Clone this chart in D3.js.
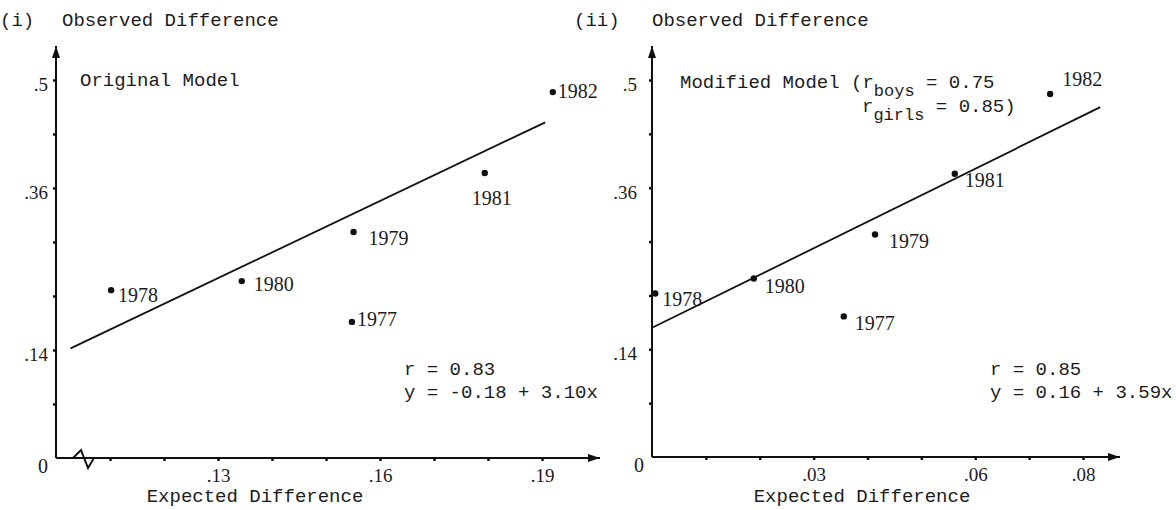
<!DOCTYPE html>
<html>
<head>
<meta charset="utf-8">
<script src="https://cdn.jsdelivr.net/npm/d3@7"></script>
<style>
  body { margin: 0; background: #fff; }
  svg { display: block; }
  .mono { font-family: "Liberation Mono", "DejaVu Sans Mono", monospace; font-size: 19px; fill: #1c1c1c; }
  .serif { font-family: "Liberation Serif", "DejaVu Serif", serif; font-size: 20px; fill: #1c1c1c; }
  .tick text { font-family: "Liberation Serif", serif; font-size: 19px; fill: #1c1c1c; }
</style>
</head>
<body>
<div id="holder"></div>
<script>
// years, same order in both panels
var years = ["1977", "1978", "1979", "1980", "1981", "1982"];

// (i) original model
var origExpected = [0.1548, 0.1102, 0.1551, 0.1344, 0.1794, 0.1920];
var origObserved = [0.180, 0.222, 0.299, 0.234, 0.377, 0.484];
var origLineX = [0.1027, 0.1906];
var origLineY = [0.145, 0.444];
var origXTicks = [0.11, 0.12, 0.13, 0.14, 0.15, 0.16, 0.17, 0.18, 0.19];
var origXLabelValues = [0.13, 0.16, 0.19];
var origXLabels = [".13", ".16", ".19"];

// (ii) modified model
var modExpected = [0.0356, 0.0006, 0.0414, 0.0189, 0.0562, 0.0739];
var modObserved = [0.1865, 0.2169, 0.2950, 0.2368, 0.3757, 0.4815];
var modLineX = [0.0002, 0.0832];
var modLineY = [0.172, 0.464];
var modXTicks = [0.01, 0.02, 0.03, 0.04, 0.05, 0.06, 0.07, 0.08];
var modXLabelValues = [0.03, 0.06, 0.08];
var modXLabels = [".03", ".06", ".08"];

// y axis: 7 steps up to .5
var yTicks = [1, 2, 3, 4, 5, 6, 7].map(function(i) { return i * 0.5 / 7; });
var yLabelSteps = [2, 5, 7];
var yLabels = [".14", ".36", ".5"];

var svg = d3.select('#holder').append('svg').attr('width', 1176).attr('height', 510);

svg.append('defs').append('marker')
  .attr('id', 'arrow')
  .attr('viewBox', '0 0 12 10')
  .attr('refX', 12).attr('refY', 5)
  .attr('markerWidth', 12).attr('markerHeight', 10)
  .attr('markerUnits', 'userSpaceOnUse')
  .attr('orient', 'auto')
  .append('path').attr('d', 'M0,1 L12,5 L0,9 Z').attr('fill', '#111');

function drawPanel(p) {
  var g = svg.append('g');
  var x = d3.scaleLinear().domain(p.xDomain).range(p.xRange);
  var y = d3.scaleLinear().domain([0, 0.5]).range([p.yBase, 80]);
  var x0 = p.xRange[0];

  // axis lines with arrows
  g.append('line').attr('x1', x0).attr('y1', p.yBase).attr('x2', p.xEnd).attr('y2', p.yBase)
    .attr('stroke', '#111').attr('stroke-width', 2).attr('marker-end', 'url(#arrow)');
  g.append('line').attr('x1', x0).attr('y1', p.yBase).attr('x2', x0).attr('y2', 46)
    .attr('stroke', '#111').attr('stroke-width', 2).attr('marker-end', 'url(#arrow)');

  var xAxis = d3.axisBottom(x).tickValues(p.xTicks).tickSize(3).tickPadding(8)
    .tickFormat(function(d) {
      var i = p.xLabelValues.findIndex(function(v) { return Math.abs(v - d) < 1e-6; });
      return i >= 0 ? p.xLabels[i] : '';
    });
  var xg = g.append('g').attr('transform', 'translate(0,' + p.yBase + ')').call(xAxis);
  xg.select('.domain').remove();
  xg.selectAll('.tick line').attr('stroke', '#111').attr('stroke-width', 2.5);

  var yAxis = d3.axisLeft(y).tickValues(yTicks).tickSize(3).tickPadding(p.yPad)
    .tickFormat(function(d, i) {
      var k = yLabelSteps.indexOf(i + 1);
      return k >= 0 ? yLabels[k] : '';
    });
  var yg = g.append('g').attr('transform', 'translate(' + x0 + ',0)').call(yAxis);
  yg.select('.domain').remove();
  yg.selectAll('.tick line').attr('stroke', '#111').attr('stroke-width', 2.5);
  yg.selectAll('.tick text').attr('dy', '0.55em');

  g.append('text').attr('class', 'serif').attr('x', x0 - 13).attr('y', p.yBase + 15)
    .attr('text-anchor', 'middle').text('0');

  // regression line
  g.append('line')
    .attr('x1', x(p.lineX[0])).attr('y1', y(p.lineY[0]))
    .attr('x2', x(p.lineX[1])).attr('y2', y(p.lineY[1]))
    .attr('stroke', '#111').attr('stroke-width', 1.8);

  // points and year labels
  years.forEach(function(yr, i) {
    var cx = x(p.ex[i]), cy = y(p.ob[i]);
    g.append('circle').attr('cx', cx).attr('cy', cy).attr('r', 3.2).attr('fill', '#111');
    var off = p.labelOff[yr];
    g.append('text').attr('class', 'serif').attr('x', cx + off[0]).attr('y', cy + off[1]).text(yr);
  });

  g.append('text').attr('class', 'mono').attr('x', p.xLabelX).attr('y', 502)
    .attr('text-anchor', 'middle').text('Expected Difference');
  return g;
}

var left = drawPanel({
  xDomain: [0.10, 0.19], xRange: [56, 542], xEnd: 600, yBase: 458, yPad: 5,
  xTicks: origXTicks, xLabelValues: origXLabelValues, xLabels: origXLabels,
  ex: origExpected, ob: origObserved, lineX: origLineX, lineY: origLineY,
  xLabelX: 255,
  labelOff: { "1977": [5, 4], "1978": [7, 12], "1979": [15, 13], "1980": [12, 10], "1981": [-13, 32], "1982": [5, 6] }
});

// axis break on the original model's x axis
left.append('path').attr('d', 'M56,458 L73,458 L81,450 L88,468 L94,458')
  .attr('fill', 'none').attr('stroke', '#111').attr('stroke-width', 2);

var right = drawPanel({
  xDomain: [0, 0.08], xRange: [652, 1083], xEnd: 1120, yBase: 457, yPad: 12,
  xTicks: modXTicks, xLabelValues: modXLabelValues, xLabels: modXLabels,
  ex: modExpected, ob: modObserved, lineX: modLineX, lineY: modLineY,
  xLabelX: 862,
  labelOff: { "1977": [11, 14], "1978": [7, 13], "1979": [14, 13], "1980": [11, 15], "1981": [10, 13], "1982": [12, -8] }
});

// titles and notes
svg.append('text').attr('class', 'mono').attr('x', 0).attr('y', 26).attr('fill', '#666').text('(i)');
svg.append('text').attr('class', 'mono').attr('x', 62).attr('y', 26).text('Observed Difference');
svg.append('text').attr('class', 'mono').attr('x', 574).attr('y', 26).text('(ii)');
svg.append('text').attr('class', 'mono').attr('x', 652).attr('y', 26).text('Observed Difference');

svg.append('text').attr('class', 'mono').attr('x', 80).attr('y', 86).text('Original Model');

var mod1 = svg.append('text').attr('class', 'mono').attr('x', 680).attr('y', 88);
mod1.append('tspan').text('Modified Model (r');
mod1.append('tspan').attr('dy', 8).style('font-size', '17px').text('boys');
mod1.append('tspan').attr('dy', -8).text(' = 0.75');
var mod2 = svg.append('text').attr('class', 'mono').attr('x', 862).attr('y', 112);
mod2.append('tspan').text('r');
mod2.append('tspan').attr('dy', 8).style('font-size', '17px').text('girls');
mod2.append('tspan').attr('dy', -8).text(' = 0.85)');

svg.append('text').attr('class', 'mono').attr('x', 404).attr('y', 375).text('r = 0.83');
svg.append('text').attr('class', 'mono').attr('x', 404).attr('y', 398).text('y = -0.18 + 3.10x');
svg.append('text').attr('class', 'mono').attr('x', 990).attr('y', 375).text('r = 0.85');
svg.append('text').attr('class', 'mono').attr('x', 990).attr('y', 398).text('y = 0.16 + 3.59x');
</script>
</body>
</html>
